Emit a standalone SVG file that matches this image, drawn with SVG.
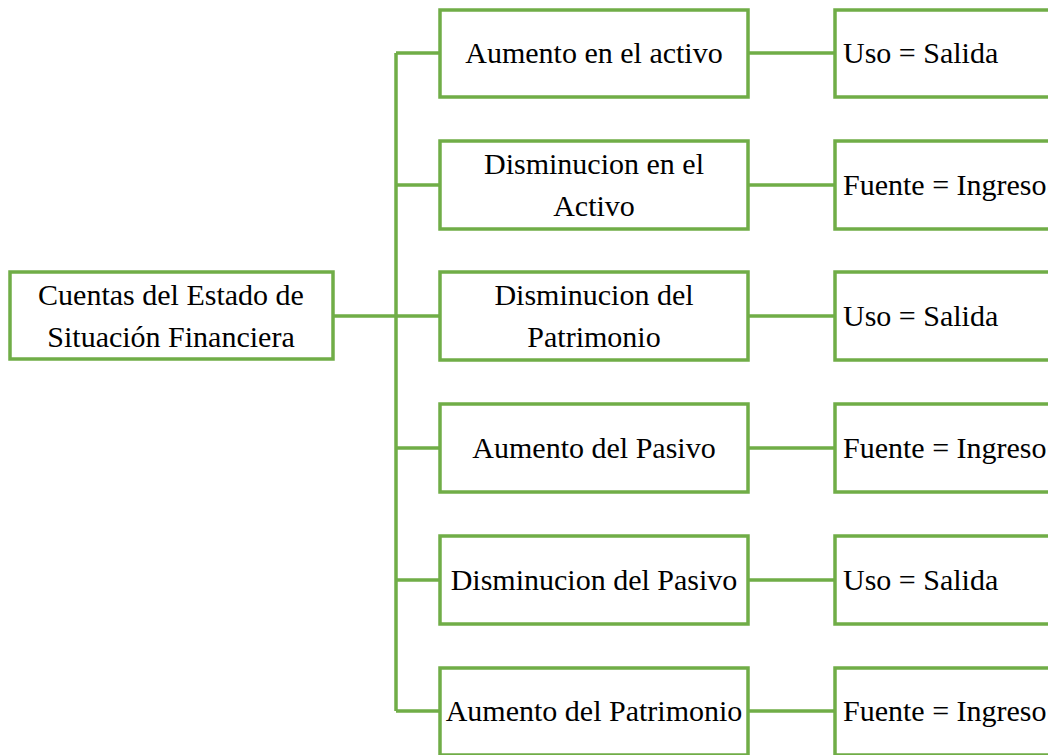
<svg xmlns="http://www.w3.org/2000/svg" width="1048" height="755" viewBox="0 0 1048 755">
<style>
.box{fill:#fff;stroke:#70AD47;stroke-width:3.5}
.ln{stroke:#70AD47;stroke-width:3.5;fill:none}
.c{text-anchor:middle}
</style>
<rect width="1048" height="755" fill="#fff"/>
<g id="connectors">
<path class="ln" d="M333 316H396M396 53V711M396 53H440M396 185H440M396 316H440M396 448H440M396 580H440M396 711H440M748 53H835M748 185H835M748 316H835M748 448H835M748 580H835M748 711H835"/>
</g>
<g font-family="'Liberation Serif', 'Times New Roman', 'DejaVu Serif', serif" font-size="30" fill="#000">
<g id="root"><rect class="box" x="10" y="272" width="323" height="87"/>
<text class="c" x="171" y="305">Cuentas del Estado de</text><text class="c" x="171" y="347">Situación Financiera</text></g>
<g id="m1"><rect class="box" x="440" y="10" width="308" height="87"/><text class="c" x="594" y="63">Aumento en el activo</text></g>
<g id="m2"><rect class="box" x="440" y="141" width="308" height="88"/><text class="c" x="594" y="174">Disminucion en el</text><text class="c" x="594" y="216">Activo</text></g>
<g id="m3"><rect class="box" x="440" y="272" width="308" height="88"/><text class="c" x="594" y="305">Disminucion del</text><text class="c" x="594" y="347">Patrimonio</text></g>
<g id="m4"><rect class="box" x="440" y="404" width="308" height="88"/><text class="c" x="594" y="458">Aumento del Pasivo</text></g>
<g id="m5"><rect class="box" x="440" y="536" width="308" height="88"/><text class="c" x="594" y="590">Disminucion del Pasivo</text></g>
<g id="m6"><rect class="box" x="440" y="668" width="308" height="87"/><text class="c" x="594" y="721">Aumento del Patrimonio</text></g>
<g id="r1"><rect class="box" x="835" y="10" width="240" height="87"/><text x="843" y="63">Uso = Salida</text></g>
<g id="r2"><rect class="box" x="835" y="141" width="240" height="88"/><text x="843" y="195">Fuente = Ingreso</text></g>
<g id="r3"><rect class="box" x="835" y="272" width="240" height="88"/><text x="843" y="326">Uso = Salida</text></g>
<g id="r4"><rect class="box" x="835" y="404" width="240" height="88"/><text x="843" y="458">Fuente = Ingreso</text></g>
<g id="r5"><rect class="box" x="835" y="536" width="240" height="88"/><text x="843" y="590">Uso = Salida</text></g>
<g id="r6"><rect class="box" x="835" y="668" width="240" height="87"/><text x="843" y="721">Fuente = Ingreso</text></g>
</g>
</svg>
